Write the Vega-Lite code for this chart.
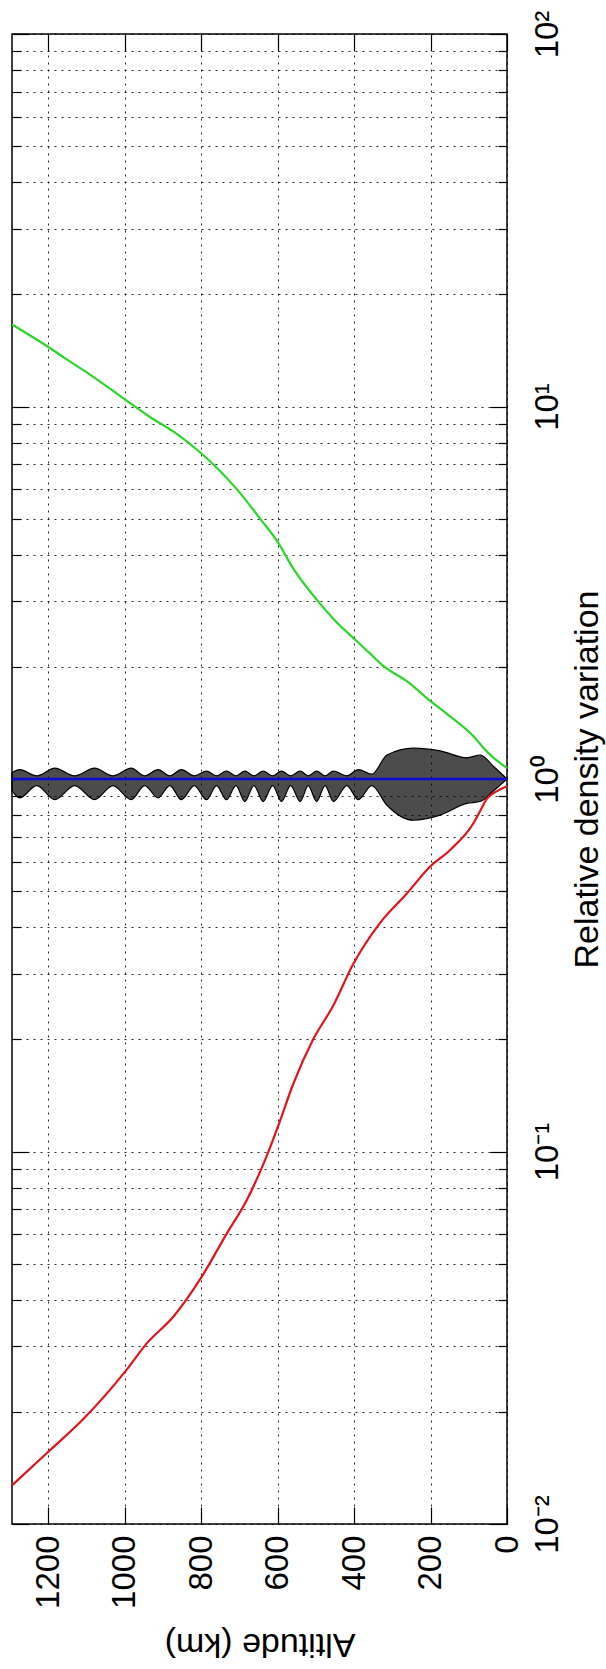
{
  "$schema": "https://vega.github.io/schema/vega-lite/v6.json",
  "autosize": {"type": "none"},
  "width": 495,
  "height": 1490,
  "padding": {"left": 12, "top": 34, "right": 99, "bottom": 145},
  "background": "white",
  "config": {"view": {"stroke": "#000", "strokeWidth": 1.5}, "font": "Liberation Sans"},
  "datasets": {
    "green": [
      {"alt": 0, "d": 1.07}, {"alt": 35, "d": 1.14}, {"alt": 61, "d": 1.21}, {"alt": 87, "d": 1.3},
      {"alt": 148, "d": 1.47}, {"alt": 201, "d": 1.62}, {"alt": 262, "d": 1.83}, {"alt": 323, "d": 2.01},
      {"alt": 360, "d": 2.18}, {"alt": 402, "d": 2.39}, {"alt": 454, "d": 2.69}, {"alt": 498, "d": 3.03},
      {"alt": 559, "d": 3.67}, {"alt": 600, "d": 4.33}, {"alt": 646, "d": 5.0}, {"alt": 707, "d": 6.0},
      {"alt": 760, "d": 6.86}, {"alt": 801, "d": 7.5}, {"alt": 873, "d": 8.57}, {"alt": 934, "d": 9.37},
      {"alt": 997, "d": 10.4}, {"alt": 1092, "d": 12.2}, {"alt": 1153, "d": 13.4}, {"alt": 1198, "d": 14.4},
      {"alt": 1295, "d": 16.6}
    ],
    "red": [
      {"alt": 0, "d": 0.956}, {"alt": 26, "d": 0.928}, {"alt": 52, "d": 0.887}, {"alt": 70, "d": 0.822},
      {"alt": 87, "d": 0.763}, {"alt": 148, "d": 0.646}, {"alt": 201, "d": 0.582}, {"alt": 262, "d": 0.493},
      {"alt": 332, "d": 0.411}, {"alt": 402, "d": 0.319}, {"alt": 454, "d": 0.247}, {"alt": 507, "d": 0.2},
      {"alt": 559, "d": 0.152}, {"alt": 600, "d": 0.116}, {"alt": 629, "d": 0.097}, {"alt": 681, "d": 0.074},
      {"alt": 734, "d": 0.06}, {"alt": 801, "d": 0.0457}, {"alt": 873, "d": 0.036}, {"alt": 943, "d": 0.0305},
      {"alt": 997, "d": 0.0258}, {"alt": 1109, "d": 0.0191}, {"alt": 1198, "d": 0.0157}, {"alt": 1295, "d": 0.0127}
    ],
    "blue": [{"alt": 0, "d": 1}, {"alt": 1295, "d": 1}],
    "mesh": [
      {"alt": 0, "lo": 1.0, "hi": 1.0}, {"alt": 35, "lo": 0.93, "hi": 1.08}, {"alt": 70, "lo": 0.87, "hi": 1.16},
      {"alt": 105, "lo": 0.86, "hi": 1.14}, {"alt": 175, "lo": 0.8, "hi": 1.19}, {"alt": 245, "lo": 0.775, "hi": 1.21},
      {"alt": 314, "lo": 0.85, "hi": 1.16}, {"alt": 354, "lo": 0.96, "hi": 1.03}, {"alt": 389, "lo": 0.88, "hi": 1.06},
      {"alt": 419, "lo": 0.96, "hi": 1.02}, {"alt": 454, "lo": 0.87, "hi": 1.05}, {"alt": 476, "lo": 0.96, "hi": 1.02},
      {"alt": 498, "lo": 0.87, "hi": 1.05}, {"alt": 520, "lo": 0.96, "hi": 1.02}, {"alt": 541, "lo": 0.87, "hi": 1.05},
      {"alt": 566, "lo": 0.96, "hi": 1.02}, {"alt": 590, "lo": 0.87, "hi": 1.05}, {"alt": 613, "lo": 0.96, "hi": 1.02},
      {"alt": 638, "lo": 0.87, "hi": 1.05}, {"alt": 662, "lo": 0.96, "hi": 1.02}, {"alt": 686, "lo": 0.87, "hi": 1.05},
      {"alt": 709, "lo": 0.96, "hi": 1.02}, {"alt": 734, "lo": 0.88, "hi": 1.05}, {"alt": 760, "lo": 0.96, "hi": 1.02},
      {"alt": 786, "lo": 0.88, "hi": 1.05}, {"alt": 818, "lo": 0.96, "hi": 1.02}, {"alt": 852, "lo": 0.88, "hi": 1.06},
      {"alt": 882, "lo": 0.96, "hi": 1.02}, {"alt": 913, "lo": 0.89, "hi": 1.06}, {"alt": 948, "lo": 0.96, "hi": 1.02},
      {"alt": 983, "lo": 0.88, "hi": 1.07}, {"alt": 1031, "lo": 0.96, "hi": 1.02}, {"alt": 1079, "lo": 0.88, "hi": 1.07},
      {"alt": 1131, "lo": 0.96, "hi": 1.02}, {"alt": 1183, "lo": 0.88, "hi": 1.07}, {"alt": 1230, "lo": 0.96, "hi": 1.02},
      {"alt": 1275, "lo": 0.89, "hi": 1.06}, {"alt": 1295, "lo": 0.93, "hi": 1.04}
    ]
  },
  "layer": [
    {
      "data": {"name": "mesh"},
      "mark": {"type": "area", "color": "#000", "fillOpacity": 0.7, "stroke": "#000", "strokeWidth": 1.2, "interpolate": "monotone"},
      "encoding": {
        "x": {
          "field": "alt", "type": "quantitative",
          "scale": {"type": "linear", "domain": [0, 1295], "reverse": true, "nice": false, "zero": false},
          "axis": {
            "orient": "bottom", "values": [0, 200, 400, 600, 800, 1000, 1200], "format": "d",
            "ticks": false, "domain": false,
            "grid": true, "gridColor": "#000", "gridDash": [2, 5], "gridWidth": 1, "gridOpacity": 0.85,
            "labelAngle": -90, "labelAlign": "right", "labelBaseline": "middle", "labelPadding": 11,
            "labelFontSize": 33, "labelFont": "Liberation Sans", "labelColor": "#000",
            "labelFlush": false, "labelOverlap": false, "labelBound": false,
            "title": "Altitude (km)", "titleAngle": 180, "titleX": 247.5, "titleY": 109,
            "titleAlign": "center", "titleBaseline": "alphabetic", "titleFontSize": 34,
            "titleFont": "Liberation Sans", "titleFontWeight": "normal", "titleColor": "#000"
          }
        },
        "y": {
          "field": "lo", "type": "quantitative",
          "scale": {"type": "log", "domain": [0.01, 100], "nice": false},
          "axis": {
            "orient": "right",
            "values": [0.01, 0.02, 0.03, 0.04, 0.05, 0.06, 0.07, 0.08, 0.09, 0.1, 0.2, 0.3, 0.4, 0.5, 0.6, 0.7, 0.8, 0.9, 1, 2, 3, 4, 5, 6, 7, 8, 9, 10, 20, 30, 40, 50, 60, 70, 80, 90, 100],
            "ticks": false, "domain": false,
            "grid": true, "gridColor": "#000", "gridDash": [2, 5], "gridWidth": 1, "gridOpacity": 0.85,
            "labelExpr": "abs(log(datum.value)/LN10 - round(log(datum.value)/LN10)) < 0.001 ? ['10⁻²','10⁻¹','10⁰','10¹','10²'][round(log(datum.value)/LN10)+2] : ''",
            "labelAngle": -90, "labelAlign": "center", "labelBaseline": "alphabetic", "labelPadding": 50,
            "labelFontSize": 33, "labelFont": "Liberation Sans", "labelColor": "#000",
            "labelFlush": false, "labelOverlap": false, "labelBound": false,
            "title": "Relative density variation", "titleAngle": -90, "titleX": 90, "titleY": 745,
            "titleAlign": "center", "titleBaseline": "alphabetic", "titleFontSize": 34,
            "titleFont": "Liberation Sans", "titleFontWeight": "normal", "titleColor": "#000"
          }
        },
        "y2": {"field": "hi"}
      }
    },
    {
      "data": {"name": "red"},
      "mark": {"type": "line", "color": "#e0151b", "strokeWidth": 2.2, "interpolate": "monotone"},
      "encoding": {
        "x": {
          "field": "alt", "type": "quantitative",
          "axis": {
            "orient": "top", "values": [0, 200, 400, 600, 800, 1000, 1200],
            "ticks": true, "tickSize": -17, "tickColor": "#000", "tickWidth": 1.2,
            "labels": false, "grid": false, "domain": false, "title": null
          }
        },
        "y": {
          "field": "d", "type": "quantitative",
          "axis": {
            "orient": "left",
            "values": [0.01, 0.02, 0.03, 0.04, 0.05, 0.06, 0.07, 0.08, 0.09, 0.1, 0.2, 0.3, 0.4, 0.5, 0.6, 0.7, 0.8, 0.9, 1, 2, 3, 4, 5, 6, 7, 8, 9, 10, 20, 30, 40, 50, 60, 70, 80, 90, 100],
            "ticks": true,
            "tickSize": {"condition": {"test": "abs(log(datum.value)/LN10 - round(log(datum.value)/LN10)) < 0.001", "value": -17}, "value": -9},
            "tickColor": "#000", "tickWidth": 1.2,
            "labels": false, "grid": false, "domain": false, "title": null
          }
        }
      }
    },
    {
      "data": {"name": "green"},
      "mark": {"type": "line", "color": "#2bd62b", "strokeWidth": 2.2, "interpolate": "monotone"},
      "encoding": {
        "x": {
          "field": "alt", "type": "quantitative",
          "axis": {
            "orient": "bottom", "values": [0, 200, 400, 600, 800, 1000, 1200],
            "ticks": true, "tickSize": -17, "tickColor": "#000", "tickWidth": 1.2,
            "labels": false, "grid": false, "domain": false, "title": null
          }
        },
        "y": {
          "field": "d", "type": "quantitative",
          "axis": {
            "orient": "right",
            "values": [0.01, 0.02, 0.03, 0.04, 0.05, 0.06, 0.07, 0.08, 0.09, 0.1, 0.2, 0.3, 0.4, 0.5, 0.6, 0.7, 0.8, 0.9, 1, 2, 3, 4, 5, 6, 7, 8, 9, 10, 20, 30, 40, 50, 60, 70, 80, 90, 100],
            "ticks": true,
            "tickSize": {"condition": {"test": "abs(log(datum.value)/LN10 - round(log(datum.value)/LN10)) < 0.001", "value": -17}, "value": -9},
            "tickColor": "#000", "tickWidth": 1.2,
            "labels": false, "grid": false, "domain": false, "title": null
          }
        }
      }
    },
    {
      "data": {"name": "blue"},
      "mark": {"type": "line", "color": "#0a0ad8", "strokeWidth": 2.5},
      "encoding": {
        "x": {"field": "alt", "type": "quantitative", "axis": null},
        "y": {"field": "d", "type": "quantitative", "axis": null}
      }
    }
  ],
  "resolve": {"axis": {"x": "independent", "y": "independent"}}
}
